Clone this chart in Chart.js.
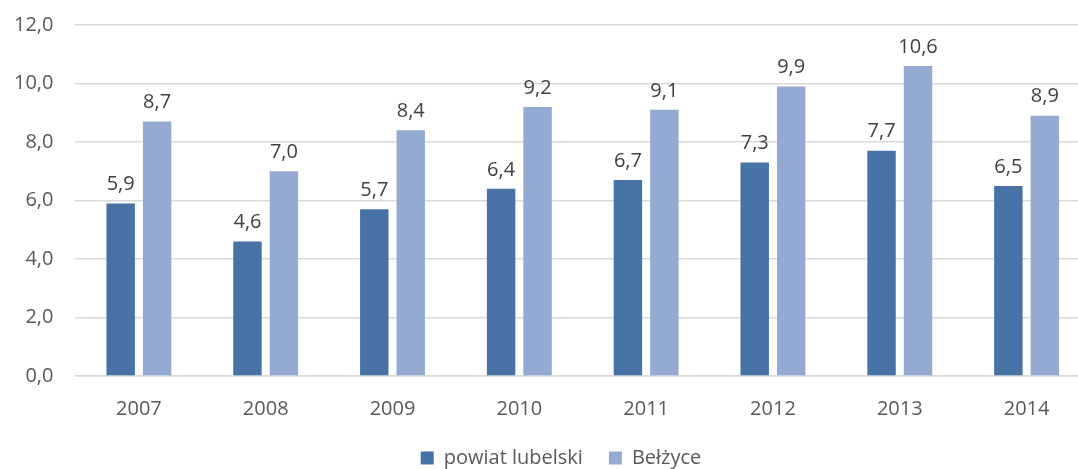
<!DOCTYPE html>
<html lang="pl">
<head>
  <meta charset="UTF-8">
  <title>Wykres</title>
  <script src="https://cdn.jsdelivr.net/npm/chart.js"></script>
  <style>
    html, body { margin: 0; padding: 0; background: #fff; overflow: hidden; }
    /* obszar wykresu wychodzi poza prawą krawędź, jak w oryginale */
    #wrap { width: 1090px; height: 469px; }
  </style>
</head>
<body>
  <div id="wrap"><canvas id="wykres"></canvas></div>
  <script>
    const lata = ['2007', '2008', '2009', '2010', '2011', '2012', '2013', '2014'];
    const powiatLubelski = [5.9, 4.6, 5.7, 6.4, 6.7, 7.3, 7.7, 6.5];
    const belzyce = [8.7, 7.0, 8.4, 9.2, 9.1, 9.9, 10.6, 8.9];
    const yMin = 0, yMax = 12, yKrok = 2;

    const fmt = v => v.toFixed(1).replace('.', ',');
    const szary = '#595959';
    const czcionka = { family: 'Open Sans', size: 20 };
    const odstepLegendy = 26;

    // wartości nad słupkami
    const etykiety = {
      id: 'etykiety',
      afterDatasetsDraw(chart) {
        const ctx = chart.ctx;
        ctx.save();
        ctx.font = '20px "Open Sans"';
        ctx.fillStyle = '#404040';
        ctx.textAlign = 'center';
        ctx.textBaseline = 'bottom';
        chart.data.datasets.forEach((ds, i) => {
          chart.getDatasetMeta(i).data.forEach((bar, j) => {
            ctx.fillText(fmt(ds.data[j]), bar.x, bar.y - 9);
          });
        });
        ctx.restore();
      }
    };

    // legenda niżej i trochę w prawo
    const przesunLegende = {
      id: 'przesunLegende',
      beforeLayout(chart) {
        const lg = chart.legend;
        if (lg && !lg._poprawiona) {
          const fit = lg.fit.bind(lg);
          lg.fit = function () { fit(); this.height = 21 + odstepLegendy; };
          lg._poprawiona = true;
        }
      },
      afterLayout(chart) {
        if (chart.legend) chart.legend.left += 40;
      }
    };

    new Chart(document.getElementById('wykres'), {
      type: 'bar',
      data: {
        labels: lata,
        datasets: [
          { label: 'powiat lubelski', data: powiatLubelski, backgroundColor: '#4672A6' },
          { label: 'Bełżyce', data: belzyce, backgroundColor: '#95AAD2' }
        ]
      },
      options: {
        responsive: true,
        maintainAspectRatio: false,
        animation: false,
        categoryPercentage: 0.575,
        barPercentage: 0.78,
        layout: { padding: { top: 25, right: 0, left: -8, bottom: 0 } },
        plugins: {
          tooltip: { enabled: false },
          legend: {
            position: 'bottom',
            labels: {
              font: czcionka,
              color: szary,
              boxWidth: 13,
              boxHeight: 13,
              padding: odstepLegendy
            }
          }
        },
        scales: {
          x: {
            grid: { display: false },
            border: { color: '#d9d9d9', width: 1.5 },
            ticks: { font: czcionka, color: szary, padding: 13 },
            afterFit: s => { s.height -= 12; }
          },
          y: {
            min: yMin,
            max: yMax,
            grid: { color: '#d9d9d9', lineWidth: 1.5, drawTicks: false },
            border: { display: false },
            ticks: {
              stepSize: yKrok,
              padding: 22,
              font: czcionka,
              color: szary,
              callback: v => fmt(v)
            },
            afterFit: s => { s.paddingTop = 0; }
          }
        }
      },
      plugins: [etykiety, przesunLegende]
    });
  </script>
</body>
</html>
